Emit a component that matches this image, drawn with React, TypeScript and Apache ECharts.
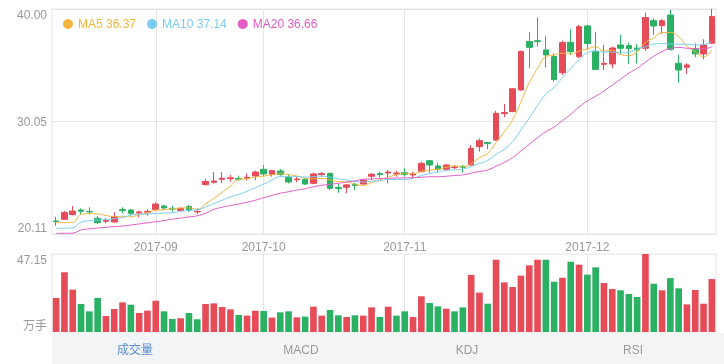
import React, { useEffect, useRef } from 'react';
import * as echarts from 'echarts';

// ---- data ----
const dates = [
  '2017-08-16', '2017-08-17', '2017-08-18', '2017-08-21', '2017-08-22', '2017-08-23', '2017-08-24', '2017-08-25', '2017-08-28', '2017-08-29', '2017-08-30', '2017-08-31',
  '2017-09-01', '2017-09-04', '2017-09-05', '2017-09-06', '2017-09-07', '2017-09-20', '2017-09-21', '2017-09-22', '2017-09-25', '2017-09-26', '2017-09-27', '2017-09-28', '2017-09-29',
  '2017-10-09', '2017-10-10', '2017-10-11', '2017-10-12', '2017-10-13', '2017-10-16', '2017-10-17', '2017-10-18', '2017-10-19', '2017-10-20', '2017-10-23', '2017-10-24', '2017-10-25', '2017-10-26', '2017-10-27', '2017-10-30', '2017-10-31',
  '2017-11-01', '2017-11-02', '2017-11-03', '2017-11-06', '2017-11-07', '2017-11-08', '2017-11-09', '2017-11-10', '2017-11-13', '2017-11-14', '2017-11-15', '2017-11-16', '2017-11-17', '2017-11-20', '2017-11-21', '2017-11-22', '2017-11-23', '2017-11-24', '2017-11-27', '2017-11-28', '2017-11-29', '2017-11-30',
  '2017-12-01', '2017-12-04', '2017-12-05', '2017-12-06', '2017-12-07', '2017-12-08', '2017-12-11', '2017-12-12', '2017-12-13', '2017-12-14', '2017-12-15', '2017-12-18', '2017-12-19', '2017-12-20', '2017-12-21', '2017-12-22',
];

const opens = [
  21.26, 21.41, 21.82, 22.23, 22.10, 21.50, 21.23, 21.17, 22.26, 22.23,
  21.97, 22.03, 22.29, 22.59, 22.38, 22.20, 22.53, 22.06, 24.47, 24.68,
  24.94, 25.00, 25.00, 25.03, 25.24, 25.83, 25.36, 25.68, 25.12, 24.91,
  24.94, 24.59, 25.36, 25.47, 24.21, 24.24, 24.50, 24.53, 25.21, 25.45,
  25.50, 25.41, 25.53, 25.33, 25.62, 26.59, 26.12, 25.83, 25.98, 26.09,
  26.21, 27.83, 28.19, 28.42, 30.75, 30.93, 32.84, 37.12, 37.20, 36.38,
  35.79, 34.37, 37.06, 35.79, 38.50, 36.23, 35.11, 35.14, 36.82, 36.76,
  36.55, 36.53, 38.97, 38.53, 39.47, 35.20, 34.85, 36.44, 36.03, 36.97,
];
const closes = [
  21.21, 22.00, 22.14, 22.12, 22.06, 21.11, 21.32, 21.64, 22.17, 21.94,
  22.06, 22.11, 22.76, 22.41, 22.32, 22.38, 22.23, 22.11, 24.76, 24.80,
  25.04, 25.08, 24.94, 25.12, 25.59, 25.42, 25.71, 25.36, 24.71, 24.97,
  24.53, 25.42, 25.45, 24.15, 24.12, 24.45, 24.41, 24.88, 25.40, 25.36,
  25.59, 25.50, 25.38, 25.41, 26.36, 26.21, 25.83, 26.21, 26.03, 26.00,
  27.68, 28.36, 28.10, 30.78, 30.84, 32.95, 36.25, 36.61, 37.12, 35.94,
  33.76, 37.03, 36.23, 38.44, 36.94, 34.66, 35.20, 36.55, 36.53, 36.50,
  36.40, 39.25, 38.50, 38.97, 36.44, 34.61, 35.05, 36.03, 36.82, 39.33,
];
const lows = [
  20.82, 21.35, 21.76, 21.88, 21.85, 20.99, 21.05, 21.11, 21.94, 21.76,
  21.58, 21.73, 22.23, 22.23, 22.08, 22.14, 22.06, 21.88, 24.41, 24.56,
  24.59, 24.74, 24.83, 24.83, 24.88, 25.24, 25.18, 25.27, 24.59, 24.68,
  24.44, 24.53, 25.18, 24.00, 23.76, 23.71, 24.00, 24.47, 24.88, 25.12,
  24.59, 25.18, 25.18, 25.03, 25.56, 25.53, 25.62, 25.77, 25.83, 25.53,
  26.15, 27.39, 27.60, 28.36, 30.43, 30.87, 32.78, 34.76, 36.67, 34.85,
  33.58, 34.17, 35.94, 35.64, 36.38, 34.60, 34.61, 34.76, 36.03, 35.14,
  35.20, 36.32, 37.71, 37.79, 36.32, 33.49, 34.26, 35.73, 35.55, 36.91,
];
const highs = [
  21.64, 22.14, 22.59, 22.38, 22.47, 21.70, 21.50, 22.03, 22.47, 22.32,
  22.17, 22.29, 22.91, 22.70, 22.59, 22.47, 22.67, 22.38, 25.00, 25.59,
  25.59, 25.33, 25.27, 25.47, 25.71, 26.21, 25.77, 25.86, 25.36, 25.18,
  25.03, 25.53, 25.59, 25.53, 24.53, 24.53, 24.65, 24.94, 25.47, 25.62,
  25.77, 25.71, 25.92, 25.62, 26.51, 26.65, 26.42, 26.30, 26.21, 26.21,
  27.98, 28.57, 28.27, 31.01, 31.60, 32.99, 36.32, 37.96, 39.27, 37.62,
  36.08, 37.20, 38.21, 38.59, 38.59, 37.99, 36.82, 36.67, 37.71, 37.03,
  36.91, 39.68, 39.18, 39.09, 39.93, 35.94, 35.20, 36.97, 37.32, 40.00,
];
// volume, 万手
const volumes = [
  20.6, 36.1, 25.6, 16.9, 12.5, 20.6, 9.7, 13.9, 17.9, 16.5,
  11.5, 12.9, 18.9, 12.5, 7.9, 8.3, 11.5, 7.7, 16.9, 17.3,
  15.1, 13.7, 10.3, 9.9, 12.9, 12.7, 8.7, 11.9, 12.5, 8.9,
  9.3, 15.3, 9.9, 13.3, 10.1, 9.1, 10.1, 9.9, 14.9, 9.1,
  15.3, 9.9, 12.5, 9.1, 21.6, 17.5, 15.5, 14.1, 12.5, 14.9,
  34.5, 23.8, 17.1, 43.7, 30.0, 27.2, 34.1, 40.3, 43.7, 43.7,
  30.4, 32.8, 42.5, 40.7, 34.7, 39.1, 29.6, 26.0, 25.2, 23.0,
  21.2, 47.15, 29.2, 25.2, 32.6, 26.4, 16.7, 25.4, 17.1, 32.0,
];
const prevCloseBeforeStart = 21.05;
// moving-average values for the first days (their windows start before the visible range)
const ma5Head = [21.11, 21.11, 21.14, 21.83];
const ma10Head = [20.62, 20.62, 20.66, 21.15, 21.28, 21.34, 21.40, 21.47, 21.56];
const ma20Head = [20.17, 20.17, 20.19, 20.46, 20.57, 20.64, 20.70, 20.76, 20.81, 20.90, 21.00, 21.10, 21.20, 21.30, 21.42, 21.52, 21.62, 21.72, 21.95];

const priceMin = 20.11;
const priceMax = 40.0;
const priceTickLabels = ['20.11', '30.05', '40.00'];
const volumeMax = 47.15;
const volumeTickLabels = ['万手', '47.15'];
const tabLabels = ['成交量', 'MACD', 'KDJ', 'RSI'];

// ---- styles ----
const RED = '#e64b58';
const GREEN = '#2bb163';
const C5 = '#f3b53c';
const C10 = '#79ccee';
const C20 = '#e35bc3';
const GRID_LINE = '#e4e4e4';
const LABEL = '#999999';
const FONT = '"Liberation Sans", Arial, "Noto Sans CJK SC", sans-serif';

function movingAverage(n: number, head: number[]): number[] {
  return closes.map((_, i) => {
    if (i < n - 1) return head[i];
    let s = 0;
    for (let k = i - n + 1; k <= i; k++) s += closes[k];
    return s / n;
  });
}

export default function App() {
  const ref = useRef<HTMLDivElement>(null);
  useEffect(() => {
    if (!ref.current) return;
    const chart = echarts.init(ref.current, undefined, { renderer: 'svg' });
    const ma5 = movingAverage(5, ma5Head);
    const ma10 = movingAverage(10, ma10Head);
    const ma20 = movingAverage(20, ma20Head);
    const last: Record<string, string> = {
      MA5: ma5[ma5.length - 1].toFixed(2),
      MA10: ma10[ma10.length - 1].toFixed(2),
      MA20: ma20[ma20.length - 1].toFixed(2),
    };
    const monthStarts = new Set<number>();
    dates.forEach((d, i) => {
      if (i > 0 && d.slice(0, 7) !== dates[i - 1].slice(0, 7)) monthStarts.add(i);
    });
    const isMonthStart = (i: number) => monthStarts.has(i);

    const gridLeft = 52;
    const gridRight = 8;
    const plotWidth = 724 - gridLeft - gridRight;
    const tabW = plotWidth / tabLabels.length;

    const xBase = {
      type: 'category' as const,
      data: dates,
      boundaryGap: true,
      axisLine: { show: false },
      axisTick: { show: false },
      splitLine: {
        show: true,
        alignWithLabel: true,
        interval: (i: number) => isMonthStart(i),
        lineStyle: { color: GRID_LINE, width: 1 },
      },
    };

    chart.setOption({
      animation: false,
      textStyle: { fontFamily: FONT },
      legend: {
        left: 58,
        top: 13,
        icon: 'circle',
        itemWidth: 10,
        itemHeight: 10,
        itemGap: 11,
        selectedMode: false,
        data: [
          { name: 'MA5', textStyle: { color: C5 } },
          { name: 'MA10', textStyle: { color: C10 } },
          { name: 'MA20', textStyle: { color: C20 } },
        ],
        formatter: (name: string) => `${name} ${last[name]}`,
        textStyle: { fontSize: 12, fontFamily: FONT },
      },
      grid: [
        { left: gridLeft, right: gridRight, top: 9, height: 225, show: true, borderColor: GRID_LINE, borderWidth: 1 },
        { left: gridLeft, right: gridRight, top: 254, height: 78, show: true, borderColor: GRID_LINE, borderWidth: 1 },
      ],
      xAxis: [
        {
          ...xBase,
          gridIndex: 0,
          axisLabel: {
            show: true,
            interval: (i: number) => isMonthStart(i),
            formatter: (v: string) => v.slice(0, 7),
            color: LABEL,
            fontSize: 12,
            margin: 7,
            fontFamily: FONT,
          },
        },
        { ...xBase, gridIndex: 1, axisLabel: { show: false } },
      ],
      yAxis: [
        { type: 'value', gridIndex: 0, position: 'right', min: priceMin, max: priceMax, show: false },
        {
          type: 'value', gridIndex: 0, position: 'left', min: 0, max: priceTickLabels.length - 1, interval: 1,
          axisLine: { show: false }, axisTick: { show: false },
          axisLabel: {
            formatter: (v: number) => priceTickLabels[Math.round(v)],
            color: LABEL, fontSize: 12, margin: 5, fontFamily: FONT,
            verticalAlignMinLabel: 'bottom', verticalAlignMaxLabel: 'top',
          },
          splitLine: { show: true, lineStyle: { color: GRID_LINE, width: 1 } },
        },
        { type: 'value', gridIndex: 1, position: 'right', min: 0, max: volumeMax, show: false },
        {
          type: 'value', gridIndex: 1, position: 'left', min: 0, max: volumeTickLabels.length - 1, interval: 1,
          axisLine: { show: false }, axisTick: { show: false },
          axisLabel: {
            formatter: (v: number) => volumeTickLabels[Math.round(v)],
            color: LABEL, fontSize: 12, margin: 5, fontFamily: FONT,
            verticalAlignMinLabel: 'bottom', verticalAlignMaxLabel: 'top',
          },
          splitLine: { show: false },
        },
      ],
      series: [
        {
          name: 'K',
          type: 'candlestick',
          xAxisIndex: 0,
          yAxisIndex: 0,
          barWidth: '74%',
          z: 3,
          data: dates.map((_, i) => [opens[i], closes[i], lows[i], highs[i]]),
          itemStyle: { color: RED, color0: GREEN, borderColor: RED, borderColor0: GREEN, borderWidth: 1 },
        },
        ...[
          ['MA5', ma5, C5],
          ['MA10', ma10, C10],
          ['MA20', ma20, C20],
        ].map(([name, d, c]) => ({
          name,
          type: 'line',
          xAxisIndex: 0,
          yAxisIndex: 0,
          data: d,
          smooth: true,
          showSymbol: false,
          symbol: 'none',
          color: c,
          z: 4,
          lineStyle: { color: c, width: 1 },
          itemStyle: { color: c },
        })),
        {
          name: 'VOL',
          type: 'bar',
          xAxisIndex: 1,
          yAxisIndex: 2,
          barWidth: '80%',
          data: volumes.map((v, i) => {
            const prev = i === 0 ? prevCloseBeforeStart : closes[i - 1];
            return { value: v, itemStyle: { color: closes[i] > prev ? RED : GREEN } };
          }),
        },
      ],
      graphic: [
        {
          type: 'rect',
          shape: { x: gridLeft, y: 333, width: 724 - gridLeft, height: 31 },
          style: { fill: '#f2f4f6' },
          silent: true,
        },
        ...tabLabels.map((t, k) => ({
          type: 'text',
          x: gridLeft + tabW * (k + 0.5),
          y: 350,
          style: {
            text: t,
            fill: k === 0 ? '#5b8dcb' : '#9a9a9a',
            fontSize: 12,
            fontFamily: FONT,
            align: 'center',
            verticalAlign: 'middle',
          },
          silent: true,
        })),
      ],
    });
    return () => chart.dispose();
  }, []);

  return <div ref={ref} style={{ position: 'fixed', left: 0, top: 0, width: 724, height: 364 }} />;
}
